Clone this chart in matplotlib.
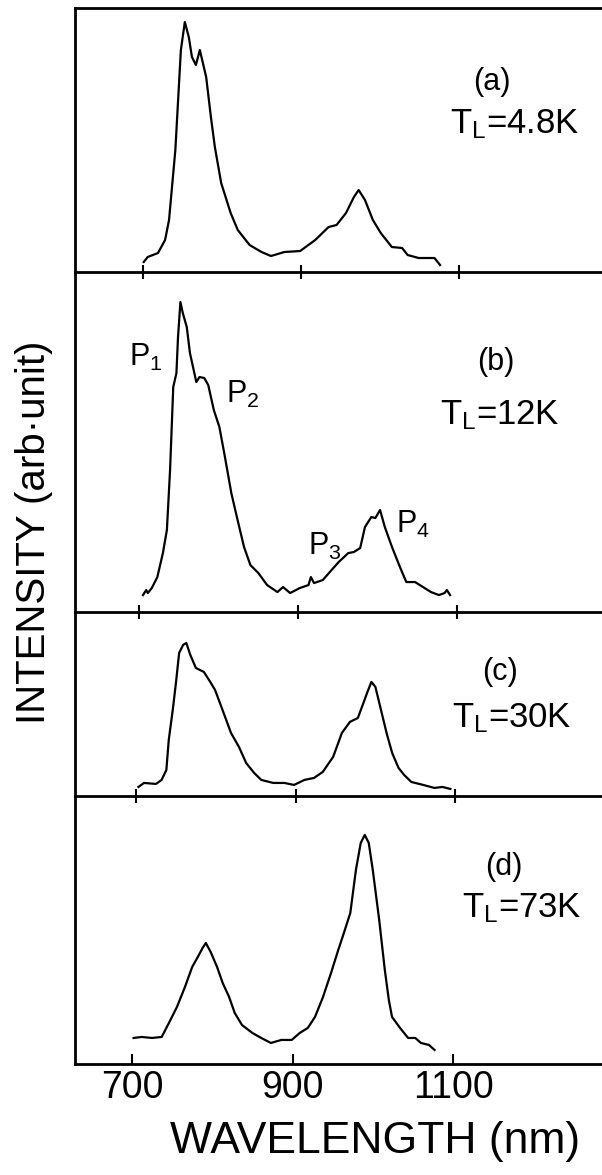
import numpy as np
import matplotlib
matplotlib.use("Agg")
import matplotlib.pyplot as plt

plt.rcParams['font.family'] = ['Liberation Sans', 'DejaVu Sans']
plt.rcParams['mathtext.fontset'] = 'custom'
plt.rcParams['mathtext.rm'] = 'Liberation Sans'
plt.rcParams['mathtext.it'] = 'Liberation Sans'

# --- PL spectra, wavelength (nm) vs intensity (arb. unit) ---
wl_a = [701, 706, 719, 728, 733, 741, 748, 753, 758, 762, 767, 772, 780, 786, 791, 799,
        811, 820, 835, 850, 862, 879, 899, 918, 935, 945, 957, 967, 973, 981, 991, 1001,
        1015, 1028, 1035, 1049, 1069, 1076]
int_a = [0.10, 0.15, 0.19, 0.32, 0.52, 1.22, 2.22, 2.50, 2.35, 2.15, 2.07, 2.22, 1.95, 1.55, 1.25, 0.89,
         0.59, 0.42, 0.27, 0.20, 0.16, 0.20, 0.21, 0.32, 0.45, 0.47, 0.59, 0.75, 0.82, 0.72, 0.52, 0.39,
         0.25, 0.24, 0.17, 0.14, 0.14, 0.07]

wl_b = [705, 709, 711, 716, 723, 730, 735, 739, 743, 747, 749, 752, 755, 760, 764, 772,
        776, 782, 787, 794, 801, 808, 816, 823, 832, 840, 850, 861, 874, 881, 890, 902,
        913, 916, 920, 931, 942, 951, 963, 970, 978, 984, 992, 997, 1003, 1009, 1018, 1028,
        1036, 1047, 1057, 1067, 1077, 1084, 1087, 1091]
int_b = [0.17, 0.22, 0.19, 0.24, 0.35, 0.59, 0.82, 1.42, 2.25, 2.39, 2.75, 3.10, 2.99, 2.85, 2.59, 2.30,
         2.35, 2.34, 2.27, 2.02, 1.85, 1.55, 1.19, 0.95, 0.65, 0.47, 0.39, 0.27, 0.20, 0.25, 0.19, 0.24,
         0.27, 0.35, 0.29, 0.32, 0.42, 0.50, 0.59, 0.60, 0.64, 0.85, 0.95, 0.94, 1.02, 0.85, 0.65, 0.45,
         0.30, 0.30, 0.25, 0.20, 0.17, 0.19, 0.22, 0.17]

wl_c = [703, 710, 725, 732, 738, 741, 746, 750, 754, 759, 763, 768, 775, 785, 793, 799,
        807, 819, 829, 838, 848, 857, 872, 886, 898, 911, 923, 934, 947, 958, 968, 978,
        985, 990, 995, 1000, 1007, 1014, 1021, 1029, 1036, 1045, 1060, 1074, 1084, 1094]
int_c = [0.09, 0.13, 0.12, 0.16, 0.26, 0.56, 0.86, 1.13, 1.43, 1.51, 1.53, 1.41, 1.28, 1.24, 1.14, 1.06,
         0.89, 0.63, 0.49, 0.33, 0.23, 0.16, 0.13, 0.13, 0.11, 0.16, 0.18, 0.24, 0.39, 0.63, 0.74, 0.78,
         0.93, 1.04, 1.14, 1.09, 0.86, 0.63, 0.43, 0.28, 0.21, 0.14, 0.11, 0.08, 0.09, 0.07]

wl_d = [702, 712, 725, 737, 746, 756, 766, 775, 782, 788, 792, 798, 806, 813, 821, 828,
        837, 850, 861, 873, 886, 899, 909, 919, 928, 938, 948, 957, 964, 972, 979, 985,
        990, 995, 1000, 1008, 1015, 1020, 1024, 1034, 1044, 1053, 1060, 1070, 1077]
int_d = [0.26, 0.27, 0.26, 0.27, 0.41, 0.57, 0.77, 0.97, 1.07, 1.16, 1.21, 1.12, 0.97, 0.81, 0.67, 0.51,
         0.39, 0.31, 0.26, 0.21, 0.24, 0.24, 0.31, 0.36, 0.47, 0.67, 0.91, 1.14, 1.31, 1.51, 1.94, 2.21,
         2.29, 2.21, 1.94, 1.44, 0.94, 0.64, 0.47, 0.36, 0.26, 0.26, 0.21, 0.19, 0.14]

tags = ['(a)', '(b)', '(c)', '(d)']
temps = [r'T$_{\rm L}$=4.8K', r'T$_{\rm L}$=12K', r'T$_{\rm L}$=30K', r'T$_{\rm L}$=73K']
ticks = [700, 900, 1100]

# peak labels in panel (b): (text, wavelength, intensity)
peaks = [(r'P$_1$', 687, 2.46), (r'P$_2$', 809, 2.09), (r'P$_3$', 913, 0.57), (r'P$_4$', 1023, 0.79)]

series = [(wl_a, int_a), (wl_b, int_b), (wl_c, int_c), (wl_d, int_d)]

# panel layout (figure fractions) and axis ranges
boxes = [[0.1246, 0.7685, 0.8754, 0.2247],
         [0.1246, 0.4791, 0.8754, 0.2894],
         [0.1246, 0.3226, 0.8754, 0.1566],
         [0.1246, 0.0945, 0.8754, 0.2281]]
xlims = [(614, 1281), (619.5, 1282), (623.5, 1284), (629, 1285.6)]
ylims = [(0, 2.64), (0, 3.40), (0, 1.84), (0, 2.68)]
tag_pos = [(0.791, 0.72), (0.799, 0.735), (0.806, 0.674), (0.814, 0.735)]
temp_pos = [(0.712, 0.527), (0.693, 0.553), (0.715, 0.375), (0.734, 0.549)]

fig = plt.figure(figsize=(6.02, 11.75), dpi=100)

for i in range(4):
    ax = fig.add_axes(boxes[i])
    ax.patch.set_visible(False)
    wl, inten = series[i]
    ax.plot(np.array(wl), np.array(inten), color='black', lw=1.6)
    ax.set_xlim(*xlims[i])
    ax.set_ylim(*ylims[i])
    ax.set_yticks([])
    ax.set_xticks(ticks)
    ax.spines['right'].set_visible(False)
    ax.spines['top'].set_visible(i == 0)
    for s in ['left', 'bottom', 'top']:
        ax.spines[s].set_linewidth(2.0)
    if i < 3:
        ax.tick_params(axis='x', direction='inout', length=10, width=1.5, labelbottom=False)
    else:
        ax.tick_params(axis='x', direction='in', length=7, width=1.5, pad=4, labelsize=27)
        ax.set_xticklabels([str(t) for t in ticks])
    ax.text(tag_pos[i][0], tag_pos[i][1], tags[i], transform=ax.transAxes,
            ha='center', va='center', fontsize=22)
    ax.text(temp_pos[i][0], temp_pos[i][1], temps[i], transform=ax.transAxes,
            ha='left', va='baseline', fontsize=25)
    if i == 1:
        for lab, px, py in peaks:
            ax.text(px, py, lab, ha='left', va='baseline', fontsize=22)

fig.text(0.056, 0.547, 'INTENSITY (arb\u00b7unit)', rotation=90, ha='center', va='center', fontsize=29)
fig.text(0.623, 0.0187, 'WAVELENGTH (nm)', ha='center', va='baseline', fontsize=32)

plt.savefig('out.png', dpi=100)
